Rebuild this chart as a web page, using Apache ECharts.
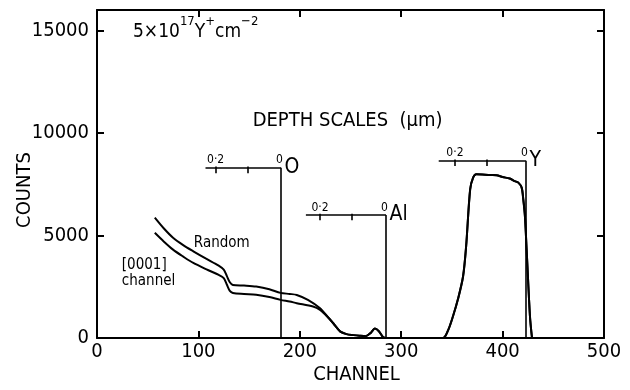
<!DOCTYPE html>
<html>
<head>
<meta charset="utf-8">
<script src="https://cdn.jsdelivr.net/npm/echarts@6/dist/echarts.min.js"></script>
<style>
  html, body { margin: 0; padding: 0; background: #fff; }
  #chart { width: 630px; height: 390px; }
</style>
</head>
<body>
<div id="chart"></div>
<script>
  // spectrum: [channel, counts]
  const randomHead = [[57, 5870], [66, 5340], [75, 4890], [85, 4530], [95, 4230], [108, 3860], [120, 3530], [125, 3330], [128, 3030], [131, 2720], [134, 2590], [145, 2560], [157, 2510], [170, 2380], [181, 2200], [190, 2150], [197, 2100], [208, 1860], [220, 1450]]
  const alignedHead = [[57, 5130], [66, 4700], [75, 4310], [85, 3970], [95, 3660], [108, 3350], [120, 3080], [125, 2920], [128, 2610], [131, 2300], [134, 2200], [145, 2150], [157, 2110], [170, 2000], [181, 1860], [190, 1780], [197, 1700], [213, 1540], [220, 1370]]
  const sharedTail = [[228, 1000], [233, 720], [240, 310], [246, 190], [253, 140], [259, 110], [265, 90], [270, 250], [274, 460], [278, 330], [282, 50], [285, 0], [341, 0], [346, 350], [351, 1050], [356, 1900], [361, 3000], [364, 4450], [368, 7250], [371, 7830], [374, 7990], [388, 7950], [394, 7940], [400, 7850], [407, 7780], [412, 7650], [415.5, 7580], [418.8, 7335], [420.4, 6760], [422, 5950], [423.7, 4310], [427, 1050], [429, 0]]

  // depth scales (um) for O, Al, Y
  const scaleNames = ['O', 'Al', 'Y']
  const scaleStart = [107, 206, 337]
  const scaleZero = [181.5, 285, 423]
  const scaleLevel = [8300, 6000, 8650]
  const scaleTicks = [[117, 149], [220, 251], [353, 384]]
  const scaleTickText = ['0·2', '0']

  const noteText = ['DEPTH SCALES  (µm)', 'Random', '[0001]\nchannel']
  const notePos = [[153, 10600], [95, 4630], [24, 3160]]
  const dosePos = [35, 15100]

  const xTicks = [0, 500, 100]
  const yTicks = [0, 16000, 5000]

  const FONT = "'DejaVu Sans Condensed', 'Liberation Sans', sans-serif"
  const INK = '#000'

  const chart = echarts.init(document.getElementById('chart'))

  const segs = []
  const scaleLabels = []
  scaleNames.forEach((name, i) => {
    const h = scaleLevel[i]
    const z = scaleZero[i]
    segs.push([{ coord: [scaleStart[i], h] }, { coord: [z, h] }])
    segs.push([{ coord: [z, h] }, { coord: [z, 0] }])
    scaleTicks[i].forEach(t => {
      segs.push([{ coord: [t, h - 260] }, { coord: [t, h + 60] }])
    })
    scaleLabels.push({ value: [scaleTicks[i][0], h], name: scaleTickText[0], label: { position: 'top', distance: 1, fontSize: 12 } })
    scaleLabels.push({ value: [z - 1.5, h], name: scaleTickText[1], label: { position: 'top', distance: 1, fontSize: 12 } })
    scaleLabels.push({ value: [z, h], name: name, label: { position: 'right', distance: 3, fontSize: 21 } })
  })

  const curveStyle = {
    type: 'line',
    showSymbol: false,
    smooth: 0.3,
    lineStyle: { color: INK, width: 2 },
    silent: true
  }

  const axisCommon = {
    type: 'value',
    axisLine: { show: true, onZero: false, lineStyle: { color: INK, width: 2 } },
    axisTick: { show: true, inside: true, length: 7, lineStyle: { color: INK, width: 2 } },
    splitLine: { show: false }
  }

  const textLabel = { show: true, color: INK, opacity: 1, fontFamily: FONT, formatter: p => p.name }

  const option = {
    animation: false,
    backgroundColor: '#fff',
    textStyle: { fontFamily: FONT, color: INK },
    grid: { left: 97, right: 26, top: 10, bottom: 52, outerBoundsMode: 'none' },
    xAxis: [
      Object.assign({}, axisCommon, {
        position: 'bottom',
        min: xTicks[0], max: xTicks[1], interval: xTicks[2],
        name: 'CHANNEL',
        nameLocation: 'middle',
        nameGap: 27,
        nameMoveOverlap: false,
        nameTextStyle: { fontFamily: FONT, fontSize: 20, color: INK, padding: [0, 0, 0, 12] },
        axisLabel: { fontFamily: FONT, fontSize: 20, color: INK, margin: 4 }
      }),
      Object.assign({}, axisCommon, {
        position: 'top',
        min: xTicks[0], max: xTicks[1], interval: xTicks[2],
        axisLabel: { show: false }
      })
    ],
    yAxis: [
      Object.assign({}, axisCommon, {
        position: 'left',
        min: yTicks[0], max: yTicks[1], interval: yTicks[2],
        name: 'COUNTS',
        nameLocation: 'middle',
        nameGap: 62,
        nameMoveOverlap: false,
        nameTextStyle: { fontFamily: FONT, fontSize: 20, color: INK, padding: [0, 32, 0, 0] },
        axisLabel: { fontFamily: FONT, fontSize: 20, color: INK, margin: 8, showMaxLabel: false, formatter: v => String(v) }
      }),
      Object.assign({}, axisCommon, {
        position: 'right',
        min: yTicks[0], max: yTicks[1], interval: yTicks[2],
        axisLabel: { show: false }
      })
    ],
    series: [
      Object.assign({ name: 'Random', data: randomHead.concat(sharedTail) }, curveStyle),
      Object.assign({ name: '[0001] channel', data: alignedHead.concat(sharedTail) }, curveStyle),
      {
        name: 'depth scales',
        type: 'line',
        data: [],
        markLine: {
          silent: true,
          symbol: ['none', 'none'],
          label: { show: false },
          lineStyle: { color: INK, width: 1.6, type: 'solid' },
          emphasis: { disabled: true },
          data: segs
        }
      },
      {
        name: 'scale labels',
        type: 'scatter',
        symbolSize: 1,
        itemStyle: { color: '#fff' },
        silent: true,
        z: 1,
        data: scaleLabels,
        label: textLabel
      },
      {
        name: 'notes',
        type: 'scatter',
        symbolSize: 1,
        itemStyle: { color: '#fff' },
        silent: true,
        z: 1,
        data: noteText.map((t, i) => ({
          value: notePos[i],
          name: t,
          label: { fontSize: i === 0 ? 20 : 15, lineHeight: i === 2 ? 16 : 20 }
        })),
        label: Object.assign({ position: 'right', distance: 0, align: 'left' }, textLabel)
      },
      {
        name: 'dose',
        type: 'scatter',
        symbolSize: 1,
        itemStyle: { color: '#fff' },
        silent: true,
        z: 1,
        data: [dosePos],
        label: {
          show: true,
          position: 'right',
          distance: 0,
          color: INK,
          opacity: 1,
          formatter: '{a|5×10}{s|17}{a|Y}{s|+}{a|cm}{s|−2}',
          rich: {
            a: { fontFamily: FONT, fontSize: 19, color: INK, lineHeight: 26, verticalAlign: 'bottom' },
            s: { fontFamily: FONT, fontSize: 13, color: INK, lineHeight: 14, verticalAlign: 'top' }
          }
        }
      }
    ]
  }

  chart.setOption(option)
</script>
</body>
</html>
